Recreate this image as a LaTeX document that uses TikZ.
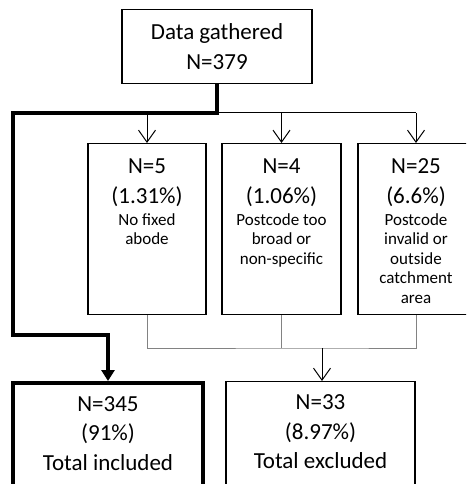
\documentclass[tikz,border=0pt]{standalone}
\usepackage{fontspec}
\setmainfont{Carlito}
\usepackage{tikz}
\usetikzlibrary{arrows.meta,positioning}
\definecolor{linkgrey}{RGB}{130,130,130}
\newcommand{\bigtext}{\fontsize{23}{29.5}\selectfont}
\newcommand{\smalltext}{\fontsize{17}{19.5}\selectfont}
\newcommand{\topaligned}[3]{\parbox[t][#1][t]{#2}{\centering #3}}
\tikzstyle{flowbox} = [draw, line width=1.2pt, inner sep=0pt, anchor=north]
\tikzstyle{mainpath} = [line width=4pt, -{Triangle[length=11pt,width=13pt]}]
\tikzstyle{thinarrow} = [line width=1pt, -{Straight Barb[length=12pt,width=17pt]}]
\tikzstyle{greyline} = [line width=1pt, color=linkgrey]

\begin{document}
\begin{tikzpicture}[x=1pt,y=-1pt]
\clip (0,0) rectangle (466,484);
% Start
\node[flowbox, minimum width=190pt, minimum height=74pt, align=center, font=\bigtext] (data) at (217,9) {Data gathered\\N=379};

% Exclusion reasons
\node[flowbox] (r1) at (147,143) {\topaligned{171pt}{118pt}{{\bigtext\rule{0pt}{30pt}N=5\\(1.31\%)\par}\vspace{2.5pt}{\smalltext No fixed\\abode\par}}};
\node[flowbox] (r2) at (281.5,143) {\topaligned{171pt}{119pt}{{\bigtext\rule{0pt}{30pt}N=4\\(1.06\%)\par}\vspace{2.5pt}{\smalltext Postcode too\\broad or\\non-specific\par}}};
\node[flowbox] (r3) at (416,143) {\topaligned{171pt}{116pt}{{\bigtext\rule{0pt}{30pt}N=25\\(6.6\%)\par}\vspace{2.5pt}{\smalltext Postcode\\invalid or\\outside\\catchment\\area\par}}};

% Totals
\node[flowbox, line width=4pt] (incl) at (108,381) {\topaligned{120pt}{190pt}{\bigtext\rule{0pt}{28pt}N=345\\(91\%)\\Total included\par}};
\node[flowbox] (excl) at (320.5,381) {\topaligned{120pt}{189pt}{\bigtext\rule{0pt}{28pt}N=33\\(8.97\%)\\Total excluded\par}};

% Connectors
\coordinate (fork) at (217,113);
\coordinate (bend) at (13,335);
\coordinate (merge) at (322,348);
\draw[line width=1pt] (fork) -- (fork -| r3.north);
\foreach \r in {r1,r2,r3}
  \draw[thinarrow] (fork -| \r.north) -- (\r.north);
\draw[mainpath] (data.south) -- (fork) -| (bend) -| (incl.north);
\draw[greyline] (r1.south) |- (merge) -| (r3.south);
\draw[greyline] (r2.south) -- (r2.south |- merge);
\draw[thinarrow] (merge) -- (merge |- excl.north);
\end{tikzpicture}
\end{document}
